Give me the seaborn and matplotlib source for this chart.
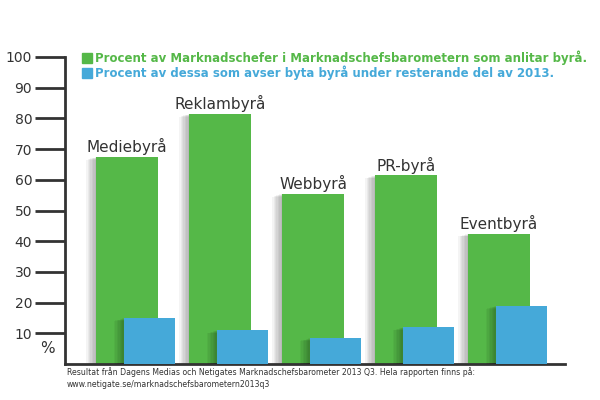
import matplotlib
matplotlib.use('Agg')
import matplotlib.pyplot as plt
import matplotlib.patheffects as pe
import seaborn as sns
import pandas as pd
import numpy as np

# Data
categories = ['Mediebyrå', 'Reklambyrå', 'Webbyrå', 'PR-byrå', 'Eventbyrå']
anlitar = [67.5, 81.5, 55.5, 61.5, 42.5]     # % som anlitar byrå
byta = [15, 11, 8.5, 12, 19]                 # % som avser byta byrå
yticks = [10, 20, 30, 40, 50, 60, 70, 80, 90, 100]

legend_green = 'Procent av Marknadschefer i Marknadschefsbarometern som anlitar byrå.'
legend_blue = 'Procent av dessa som avser byta byrå under resterande del av 2013.'
footer = ('Resultat från Dagens Medias och Netigates Marknadschefsbarometer 2013 Q3. '
          'Hela rapporten finns på:\nwww.netigate.se/marknadschefsbarometern2013q3')

green = '#55b848'
blue = '#45a9d9'
dark = '#333333'

pos = np.arange(len(categories))
df_g = pd.DataFrame({'pos': pos, 'val': anlitar})
df_b = pd.DataFrame({'pos': pos + 0.24, 'val': byta})

sns.set_style('white')
fig = plt.figure(figsize=(6, 4), dpi=100)
ax = fig.add_axes([65 / 600, 1 - 364 / 400, 500 / 600, 307 / 400])

# soft drop shadow: stacked faint offsets to the left
shadow = [pe.SimplePatchShadow(offset=(-d, -d * 0.3), shadow_rgbFace='#000000', alpha=0.045)
          for d in [7, 6, 5, 4, 3, 2, 1]]
shadow.append(pe.Normal())

sns.barplot(data=df_g, x='pos', y='val', native_scale=True, width=0.667,
            color=green, saturation=1, ax=ax, zorder=2)
sns.barplot(data=df_b, x='pos', y='val', native_scale=True, width=0.55,
            color=blue, saturation=1, ax=ax, zorder=3)
for p in ax.patches:
    p.set_path_effects(shadow)
    p.set_edgecolor('none')

for x, v, name in zip(pos, anlitar, categories):
    ax.text(x, v + 0.5, name, ha='center', va='bottom', fontsize=11, color=dark)

ax.set_xlim(-0.667, 4.71)
ax.set_ylim(0, 100)
ax.set_yticks(yticks)
ax.set_yticklabels([str(t) for t in yticks])
ax.set_xticks([])
ax.set_xlabel('')
ax.set_ylabel('')
ax.tick_params(axis='y', length=21.6, width=2, color=dark, labelsize=10,
               labelcolor=dark, pad=2, left=True)
for side in ['top', 'right']:
    ax.spines[side].set_visible(False)
for side in ['left', 'bottom']:
    ax.spines[side].set_color(dark)
    ax.spines[side].set_linewidth(2)
ax.text(-0.036, 0.05, '%', transform=ax.transAxes, ha='center', va='center',
        fontsize=11, color=dark)

# legend as coloured text lines
fig.patches.append(plt.Rectangle((82 / 600, 1 - 63 / 400), 10 / 600, 10 / 400,
                                 transform=fig.transFigure, color=green))
fig.patches.append(plt.Rectangle((82 / 600, 1 - 78 / 400), 10 / 600, 10 / 400,
                                 transform=fig.transFigure, color=blue))
fig.text(95 / 600, 1 - 58 / 400, legend_green, color=green, fontsize=8.5,
         fontweight='bold', va='center', ha='left')
fig.text(95 / 600, 1 - 73 / 400, legend_blue, color=blue, fontsize=8.5,
         fontweight='bold', va='center', ha='left')

fig.text(67 / 600, 1 - 367 / 400, footer, color=dark, fontsize=5.6,
         va='top', ha='left', linespacing=1.5)

fig.savefig('out.png', dpi=100)
